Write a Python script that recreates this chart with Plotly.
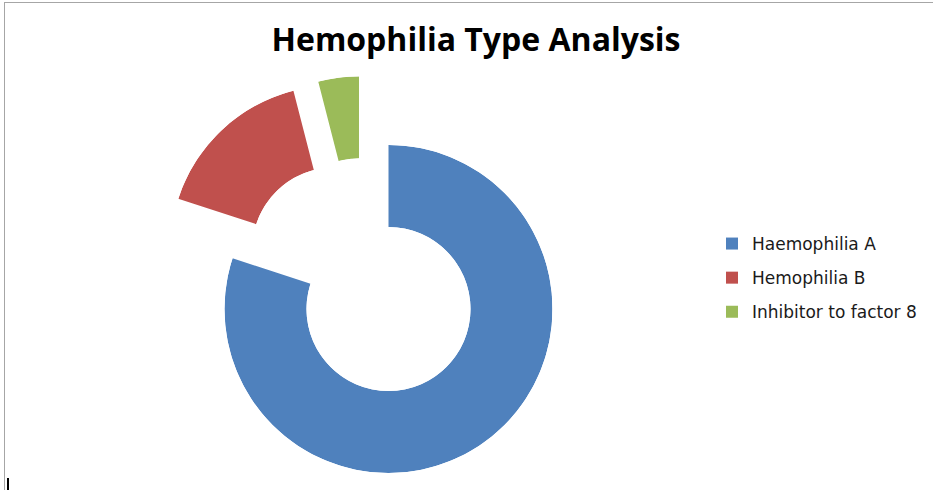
import plotly.graph_objects as go

labels = ["Haemophilia A", "Hemophilia B", "Inhibitor to factor 8"]
values = [40, 8, 2]
colors = ["#4F81BD", "#C0504D", "#9BBB59"]

W, H = 933, 490
R = 164                      # ring radius in px
center = (388.5, 309)        # centre of the main ring
# pixel offset of each (exploded) slice
offsets = [(0, 0), (-54.3, -59.5), (-29.5, -68.6)]

total = sum(values)
fig = go.Figure()

start = 0
for i, (lab, val, col, off) in enumerate(zip(labels, values, colors, offsets)):
    share = 360 * val / total
    pid = "polar" if i == 0 else f"polar{i + 1}"
    fig.add_trace(go.Barpolar(
        r=[1],
        theta=[start + share / 2],
        width=[share],
        name=lab,
        subplot=pid,
        legendgroup=lab,
        marker=dict(color=col, line=dict(width=0)),
        customdata=[val],
        hovertemplate=f"{lab}<br>%{{customdata}}<extra></extra>",
    ))
    start += share

    cx, cy = center[0] + off[0], center[1] + off[1]
    fig.update_layout({pid: dict(
        domain=dict(x=[(cx - R) / W, (cx + R) / W],
                    y=[(H - cy - R) / H, (H - cy + R) / H]),
        hole=0.5,
        bargap=0,
        bgcolor="rgba(0,0,0,0)",
        radialaxis=dict(visible=False, range=[0, 1]),
        angularaxis=dict(visible=False, rotation=90, direction="clockwise"),
    )})

fig.update_layout(
    width=W,
    height=H,
    margin=dict(l=0, r=0, t=0, b=0),
    paper_bgcolor="white",
    title=dict(
        text="<b>Hemophilia Type Analysis</b>",
        x=476 / W, xanchor="center",
        y=1 - 40 / H, yanchor="middle", yref="container",
        font=dict(family="Open Sans", size=32, color="black"),
    ),
    legend=dict(
        x=712 / W, xanchor="left",
        y=1 - 278 / H, yanchor="middle",
        tracegroupgap=9,
        font=dict(family="DejaVu Sans", size=17, color="#1a1a1a"),
    ),
    shapes=[
        dict(type="line", xref="paper", yref="paper", x0=4 / W, x1=1,
             y0=1 - 2.5 / H, y1=1 - 2.5 / H, line=dict(color="#a6a6a6", width=1)),
        dict(type="line", xref="paper", yref="paper", x0=4.5 / W, x1=4.5 / W,
             y0=0, y1=1 - 2.5 / H, line=dict(color="#a6a6a6", width=1)),
        dict(type="line", xref="paper", yref="paper", x0=8 / W, x1=8 / W,
             y0=0, y1=12 / H, line=dict(color="black", width=2)),
    ],
)

# drop the default page margin so the figure sits at the window origin
fig.write_html("out.html", config={"displayModeBar": False},
               post_script="document.body.style.margin='0';")
